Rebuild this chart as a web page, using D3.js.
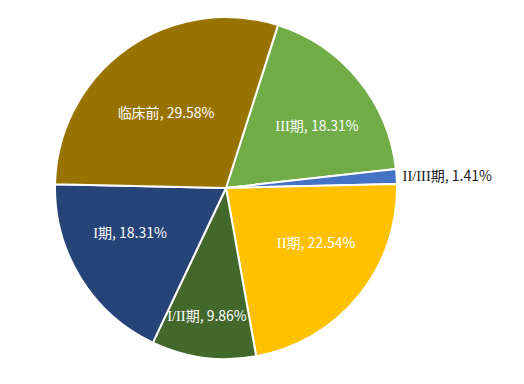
<!DOCTYPE html>
<html><head><meta charset="utf-8">
<script src="https://cdn.jsdelivr.net/npm/d3@7"></script>
<style>html,body{margin:0;padding:0;background:#fff;}</style>
</head><body>
<svg id="c" width="524" height="384"></svg>
<script>
const categories = ["III期", "II/III期", "II期", "I/II期", "I期", "临床前"];
const values = [18.31, 1.41, 22.54, 9.86, 18.31, 29.58];
const colors = ["#70AD47", "#4472C4", "#FFC000", "#43682B", "#264478", "#997300"];
// label layout: radius fraction (>=1 means outside) and angle shift in degrees
const labelRadiusFrac = [0.645, 1.0, 0.617, 0.757, 0.62, 0.56];
const labelAngleShift = [5.0, 0, -7.9, 0.9, 6.6, -3.2];

const W = 524, H = 384, cx = 226, cy = 188, R = 171;
const startDeg = 17.7;
const svg = d3.select("#c");
const g = svg.append("g").attr("transform", `translate(${cx},${cy})`);
const data = categories.map((c, i) => ({cat: c, val: values[i], i}));
const pie = d3.pie().sort(null).value(d => d.val)
  .startAngle(startDeg * Math.PI / 180).endAngle(startDeg * Math.PI / 180 + 2 * Math.PI);
const arcs = pie(data);
const arc = d3.arc().innerRadius(0).outerRadius(R);
g.selectAll("path").data(arcs).enter().append("path")
  .attr("d", arc).attr("fill", d => colors[d.data.i])
  .attr("stroke", "#fff").attr("stroke-width", 2).attr("stroke-linejoin", "round");

const sans = "'Noto Sans CJK SC','Noto Sans',sans-serif";
const serif = "'Liberation Serif','DejaVu Serif',serif";
function addLabel(x, y, anchor, fill, cat, val) {
  const t = g.append("text").attr("x", x).attr("y", y).attr("dy", "0.35em")
    .attr("text-anchor", anchor).attr("fill", fill)
    .style("font-family", sans).style("font-size", "14px");
  // split roman numeral prefix so it can be drawn in a serif face
  const m = cat.match(/^([I\/]+)(.*)$/);
  if (m) {
    t.append("tspan").style("font-family", serif).style("font-size", "14.5px").text(m[1]);
    t.append("tspan").text(m[2]);
  } else {
    t.append("tspan").text(cat);
  }
  t.append("tspan").text(`, ${val.toFixed(2)}%`);
}
arcs.forEach(d => {
  const i = d.data.i;
  const mid = (d.startAngle + d.endAngle) / 2;
  if (labelRadiusFrac[i] >= 1) {
    const x = Math.sin(mid) * (R + 6), y = -Math.cos(mid) * (R + 6);
    addLabel(x, y, "start", "#1a1a1a", d.data.cat, d.data.val);
  } else {
    const a = mid + labelAngleShift[i] * Math.PI / 180;
    const r = R * labelRadiusFrac[i];
    addLabel(Math.sin(a) * r, -Math.cos(a) * r, "middle", "#fff", d.data.cat, d.data.val);
  }
});
</script>
</body></html>
